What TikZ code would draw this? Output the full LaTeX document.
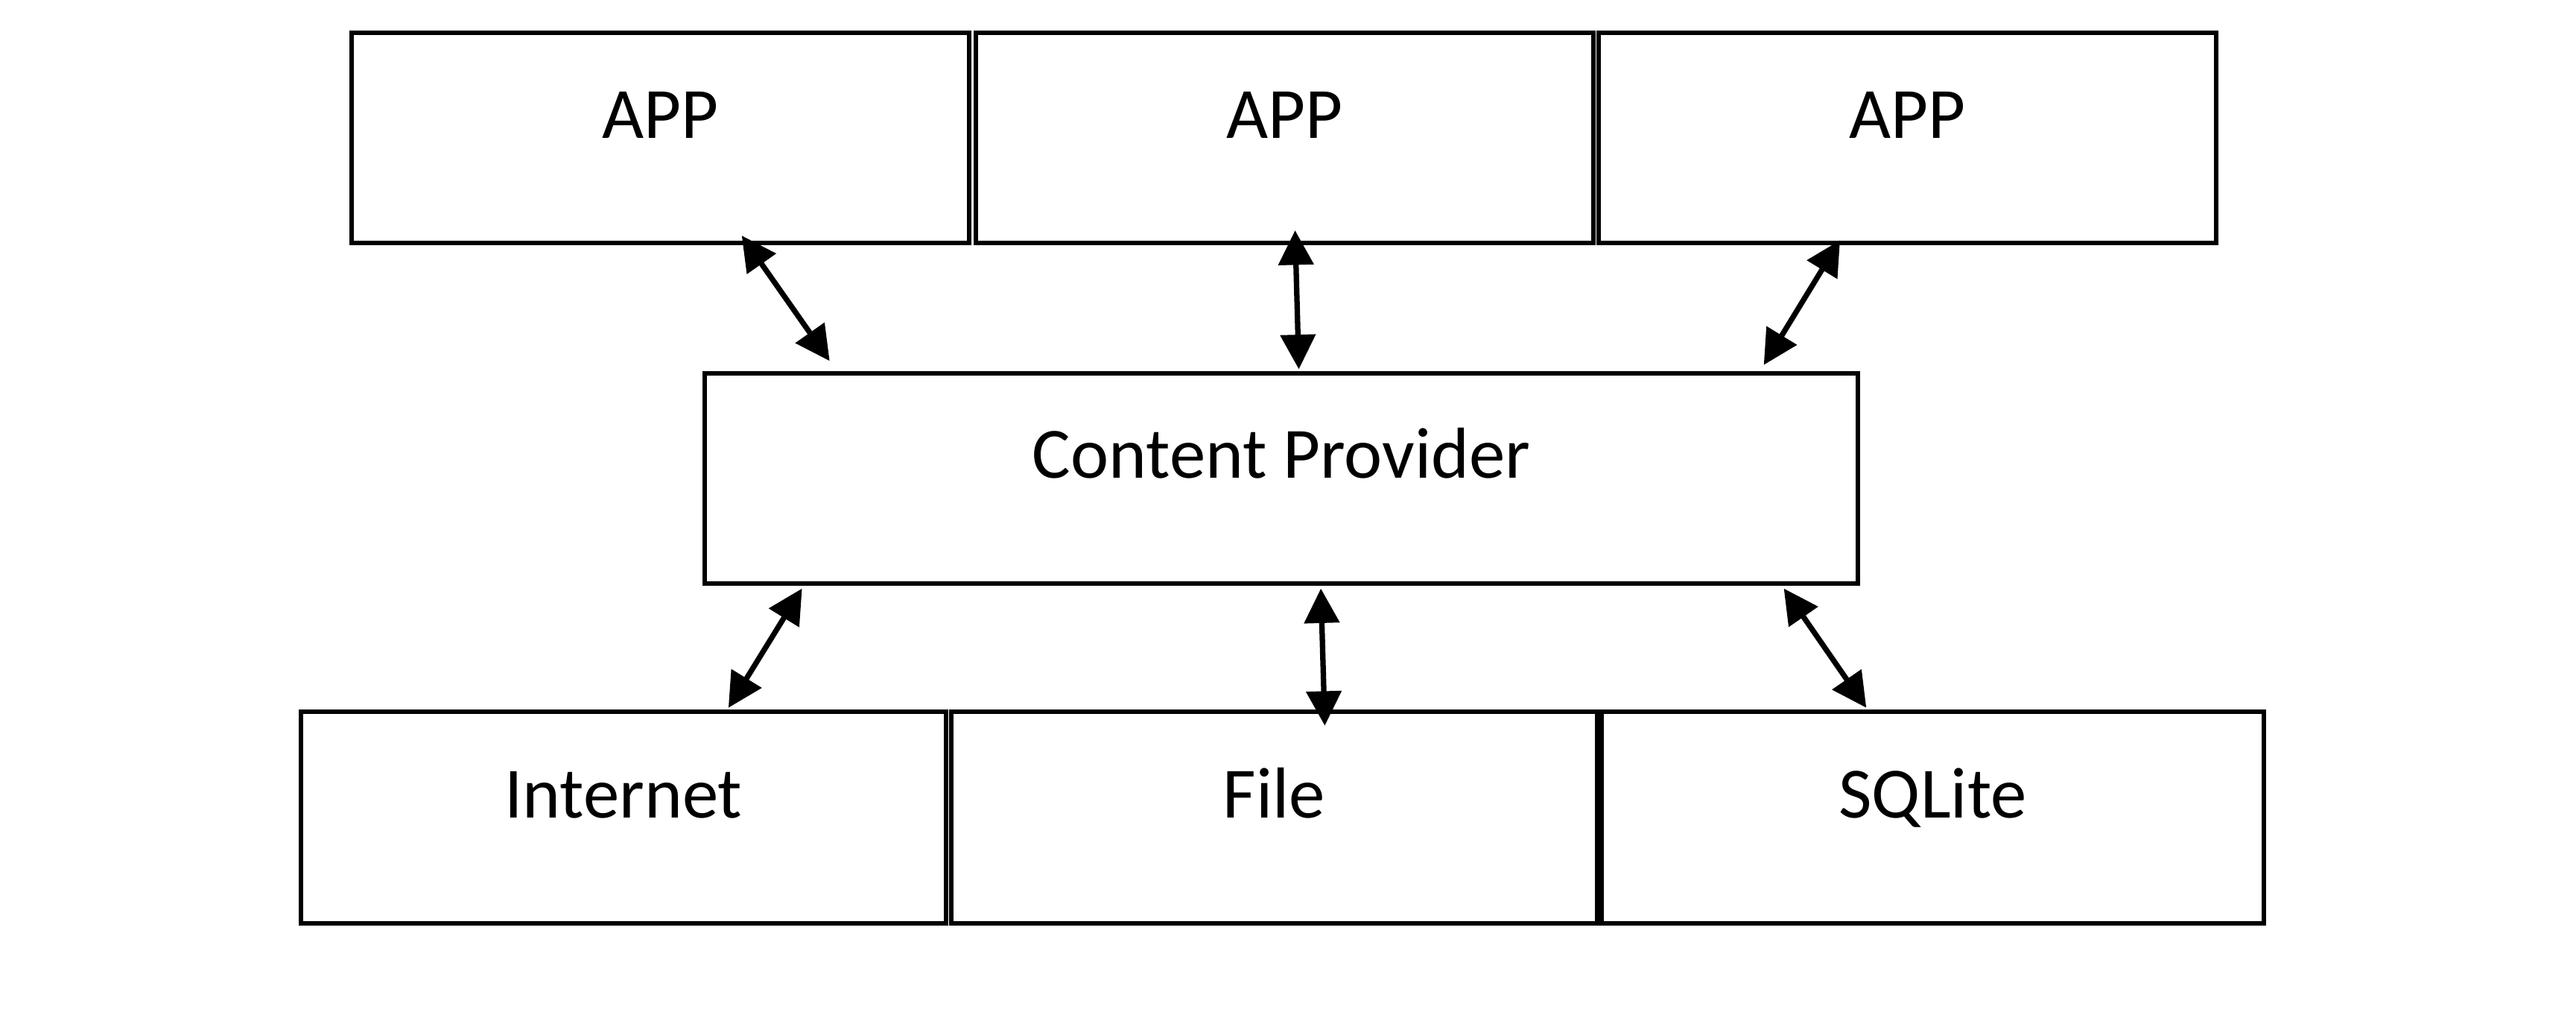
\documentclass[tikz,border=0pt]{standalone}
\usepackage{fontspec}
\setmainfont{Carlito}
\usetikzlibrary{arrows.meta,calc}

\begin{document}
\begin{tikzpicture}[x=0.02cm,y=-0.02cm]
    \tikzset{
        box/.style={draw, line width=0.055cm, inner sep=0pt,
            text height=0.4cm, text depth=0.4cm,
            font=\fontsize{25}{30}\selectfont},
        link/.style={{Triangle[length=0.42cm,width=0.42cm]}-{Triangle[length=0.42cm,width=0.42cm]},
            line width=0.066cm}
    }

    % 余白
    \useasboundingbox (0,0) rectangle (1568,621);

    % 上段のAPP
    \node[box, minimum width=7.52cm, minimum height=2.56cm] (app1) at (402,84) {APP};
    \node[box, minimum width=7.52cm, minimum height=2.56cm] (app2) at (782,84) {APP};
    \node[box, minimum width=7.52cm, minimum height=2.56cm] (app3) at (1161,84) {APP};

    % 中央
    \node[box, minimum width=14.04cm, minimum height=2.56cm] (cp) at (780,291) {Content Provider};

    % 下段のデータ
    \node[box, minimum width=7.86cm, minimum height=2.58cm] (net) at (379.5,497.5) {Internet};
    \node[box, minimum width=7.86cm, minimum height=2.58cm] (file) at (775.5,497.5) {File};
    \node[box, minimum width=8.06cm, minimum height=2.58cm] (sql) at (1176.5,497.5) {SQLite};

    % 矢印
    \draw[link] ($(app1.south)+(49.5,-6)$) -- ($(cp.north)+(-275,-6)$);
    \draw[link] ($(app2.south)+(6.3,-9.2)$) -- ($(cp.north)+(10.6,-1)$);
    \draw[link] ($(app3.south)+(-41,-3.2)$) -- ($(cp.north)+(293.6,-3.6)$);
    \draw[link] ($(cp.south)+(-291.8,1.7)$) -- ($(net.north)+(63.9,-1)$);
    \draw[link] ($(cp.south)+(24,1.7)$) -- ($(file.north)+(30.9,9.9)$);
    \draw[link] ($(cp.south)+(305.8,1.7)$) -- ($(sql.north)+(-40.5,-1)$);

\end{tikzpicture}
\end{document}
